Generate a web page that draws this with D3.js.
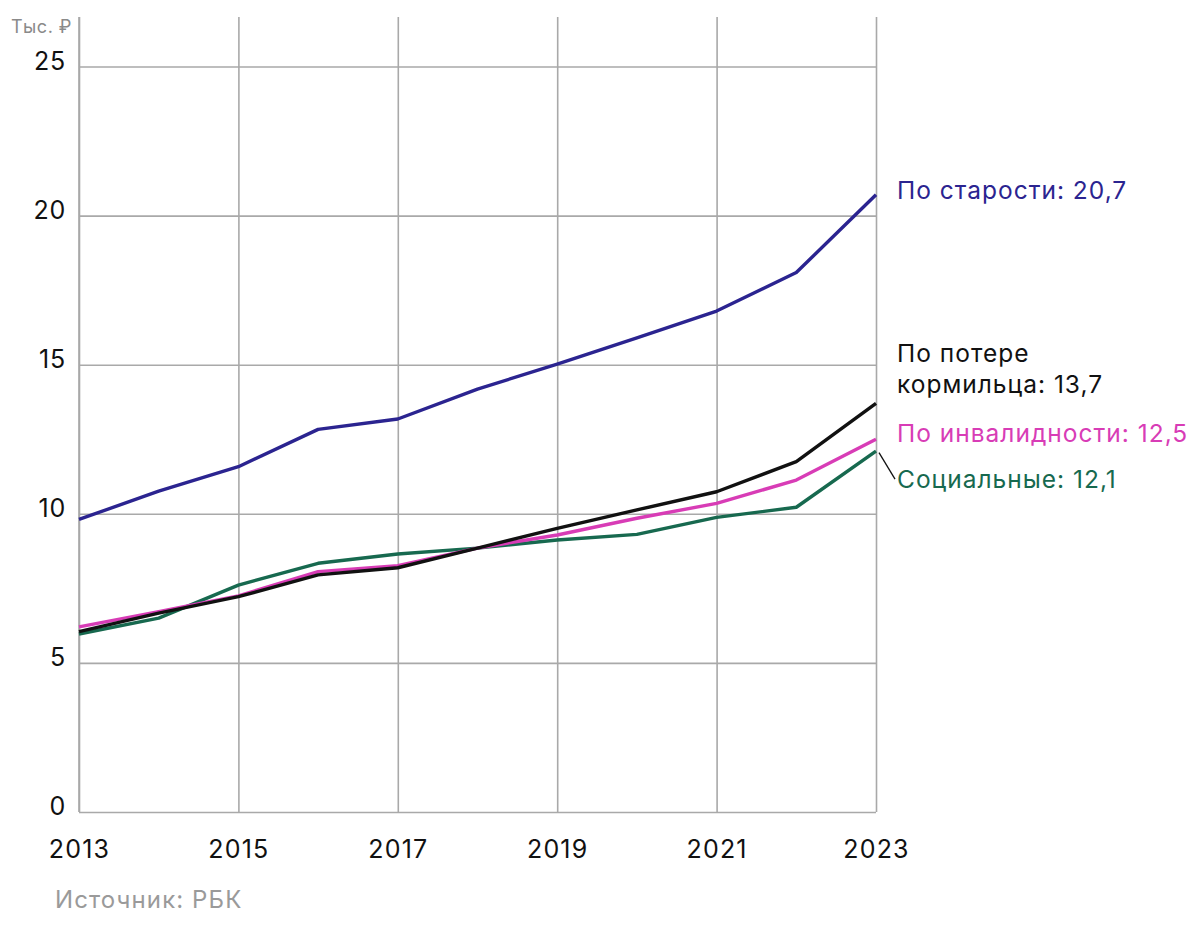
<!DOCTYPE html>
<html>
<head>
<meta charset="utf-8">
<script src="https://cdn.jsdelivr.net/npm/d3@7"></script>
<style>
  html, body { margin: 0; padding: 0; background: #fff; }
  svg { display: block; }
  text { font-family: Inter, "Noto Sans", sans-serif; }
</style>
</head>
<body>
<svg id="chart" width="1200" height="947"></svg>
<script>
// ---- data ----
const years = [2013, 2014, 2015, 2016, 2017, 2018, 2019, 2020, 2021, 2022, 2023];
const oldAge    = [9.81, 10.76, 11.58, 12.83, 13.18, 14.18, 15.02, 15.9, 16.8, 18.09, 20.7];
const survivor  = [6.05, 6.67, 7.22, 7.95, 8.19, 8.85, 9.51, 10.13, 10.74, 11.75, 13.7];
const disability= [6.21, 6.72, 7.25, 8.06, 8.26, 8.85, 9.29, 9.85, 10.35, 11.13, 12.5];
const social    = [5.97, 6.5, 7.61, 8.34, 8.65, 8.85, 9.12, 9.31, 9.88, 10.22, 12.1];
const yTicks = [0, 5, 10, 15, 20, 25];
const xTicks = [2013, 2015, 2017, 2019, 2021, 2023];
const seriesNames = ["По старости: 20,7", "По потере\nкормильца: 13,7", "По инвалидности: 12,5", "Социальные: 12,1"];
const unitLabel = "Тыс. ₽";
const sourceLabel = "Источник: РБК";

const series = [
  { name: seriesNames[0], values: oldAge,     color: "#2b2490", labelDy: [4] },
  { name: seriesNames[1], values: survivor,   color: "#111111", labelDy: [-41.5, -10.5] },
  { name: seriesNames[2], values: disability, color: "#d83cb6", labelDy: [2.5] },
  { name: seriesNames[3], values: social,     color: "#17694f", labelDy: [37] }
];

// ---- layout ----
const svg = d3.select("#chart");
const left = 79, right = 876, top25 = 66.5, bottom = 812, gridTop = 17;

const x = d3.scaleLinear().domain([2013, 2023]).range([left, right]);
const y = d3.scaleLinear().domain([0, 25]).range([bottom, top25]);

const gridColor = "#a9a9a9";

// vertical gridlines + x labels
const xAxis = d3.axisBottom(x).tickValues(xTicks).tickFormat(d3.format("d"))
  .tickSize(-(bottom - gridTop)).tickPadding(0);
const gx = svg.append("g").attr("transform", `translate(0,${bottom})`).call(xAxis);
gx.select(".domain").remove();
gx.selectAll(".tick line").attr("stroke", gridColor).attr("stroke-width", 1.6);
gx.selectAll(".tick text").attr("y", 46).attr("dy", 0)
  .attr("font-size", 25).attr("letter-spacing", 1.2).attr("fill", "#111").attr("text-anchor", "middle");

// horizontal gridlines + y labels
const yAxis = d3.axisLeft(y).tickValues(yTicks).tickFormat(d3.format("d"))
  .tickSize(-(right - left)).tickPadding(0);
const gy = svg.append("g").attr("transform", `translate(${left},0)`).call(yAxis);
gy.select(".domain").remove();
gy.selectAll(".tick line").attr("stroke", gridColor).attr("stroke-width", 1.6);
gy.selectAll(".tick text").attr("x", -13).attr("dy", 2.5)
  .attr("font-size", 25).attr("letter-spacing", 0.8).attr("fill", "#111").attr("text-anchor", "end");

// left axis line full height
svg.append("line").attr("x1", left).attr("x2", left).attr("y1", gridTop).attr("y2", bottom)
  .attr("stroke", gridColor).attr("stroke-width", 1.6);

// lines
const line = d3.line().x((d, i) => x(years[i])).y(d => y(d));
const drawOrder = [0, 3, 2, 1];
drawOrder.forEach(k => {
  const s = series[k];
  svg.append("path").datum(s.values).attr("d", line)
    .attr("fill", "none").attr("stroke", s.color).attr("stroke-width", 3.4)
    .attr("stroke-linejoin", "round");
});

// labels
const labelX = x(2023) + 21;
series.forEach(s => {
  const lastY = y(s.values[s.values.length - 1]);
  const parts = s.name.split("\n");
  parts.forEach((p, i) => {
    svg.append("text").attr("x", labelX).attr("y", lastY + s.labelDy[i])
      .attr("font-size", 24.5).attr("letter-spacing", 1).attr("fill", s.color).text(p);
  });
});

// leader line for social label
const sLast = social[social.length - 1];
svg.append("line")
  .attr("x1", x(2023) + 3).attr("y1", y(sLast) + 1.5)
  .attr("x2", x(2023) + 19).attr("y2", y(sLast) + 28)
  .attr("stroke", "#111").attr("stroke-width", 1.3);

// unit label
svg.append("text").attr("x", 72).attr("y", 33).attr("text-anchor", "end")
  .attr("font-size", 18).attr("letter-spacing", 0.5).attr("fill", "#8a8a8a").text(unitLabel);

// source
svg.append("text").attr("x", 55).attr("y", 908)
  .attr("font-size", 24).attr("letter-spacing", 1.1).attr("fill", "#9a9a9a").text(sourceLabel);
</script>
</body>
</html>
